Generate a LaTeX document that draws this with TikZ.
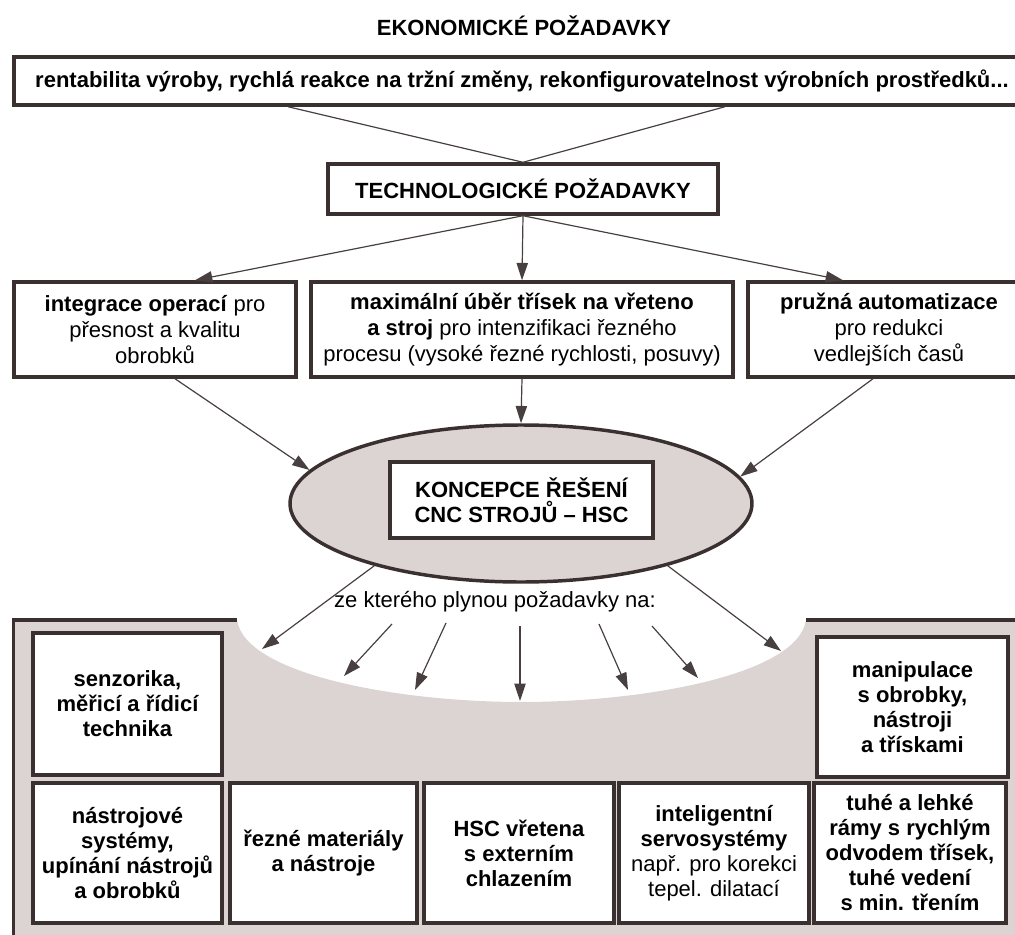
\documentclass[tikz,border=0pt]{standalone}
\usepackage{fontspec}
\setmainfont{Liberation Sans}
\usetikzlibrary{arrows.meta,shapes.geometric}
\definecolor{rahmen}{RGB}{58,48,48}
\definecolor{pfeilgrau}{RGB}{72,64,64}
\definecolor{papier}{RGB}{219,212,210}

\begin{document}
\begin{tikzpicture}[%
x=0.75pt,
y=-0.75pt,
kasten/.style={draw=rahmen, line width=2.6pt, fill=white, align=center, inner sep=0pt},
fett/.style={font=\fontsize{16.5}{19}\selectfont\bfseries},
unten/.style={kasten, minimum height=105pt, font=\fontsize{16.5}{18.75}\selectfont\bfseries},
pfeil/.style={draw=pfeilgrau, line width=0.9pt, -{Triangle[length=13pt,width=8.5pt]}},
linie/.style={draw=pfeilgrau, line width=0.9pt},
font=\fontsize{16.5}{19.5}\selectfont,
]
\useasboundingbox (0,0) rectangle (1015,935);

%Hintergrund
\fill[papier] (12,620) -- (237,620)
  .. controls (245,675) and (400,702) .. (521.5,702)
  .. controls (643,702) and (798,675) .. (806,620)
  -- (1015,620) -- (1015,935) -- (12,935) -- cycle;
\draw[rahmen, line width=2.6pt] (237,620) -- (13.5,620) -- (13.5,935);
\draw[rahmen, line width=2.6pt] (806,620) -- (1015,620);

%Kaesten oben
\node[fett] (oekonom) at (524,26) {EKONOMICKÉ POŽADAVKY};
\node[kasten, fett, minimum width=762pt, minimum height=36pt] (rentab) at (522,81)
  {rentabilita výroby, rychlá reakce na tržní změny, rekonfigurovatelnost výrobních prostředků...};
\node[kasten, fett, minimum width=292.5pt, minimum height=37.5pt] (techno) at (523,189)
  {TECHNOLOGICKÉ POŽADAVKY};
\node[kasten, minimum width=211.5pt, minimum height=71.25pt] (integ) at (155,329.5)
  {\textbf{integrace operací} pro\\přesnost a kvalitu\\obrobků};
\node[kasten, minimum width=316.5pt, minimum height=71.25pt] (mitte) at (522,329.5)
  {\textbf{maximální úběr třísek na vřeteno}\\\textbf{a stroj} pro intenzifikaci řezného\\procesu (vysoké řezné rychlosti, posuvy)};
\node[kasten, minimum width=211.5pt, minimum height=71.25pt] (auto) at (889,329.5)
  {\textbf{pružná automatizace}\\pro redukci\\vedlejších časů};

%Ellipse
\node[ellipse, draw=rahmen, line width=2.6pt, fill=papier, inner sep=0pt,
  minimum width=346.5pt, minimum height=117.75pt] (konz) at (521,503.5) {};
\node[kasten, fett, minimum width=197.25pt, minimum height=57pt] (konzept) at (521.5,500)
  {KONCEPCE ŘEŠENÍ\\CNC STROJŮ – HSC};
\node (plynou) at (495,602) {ze kterého plynou požadavky na:};

%Kaesten unten
\node[unten, minimum width=141.75pt, minimum height=106.5pt] (senzor) at (127.5,704)
  {senzorika,\\měřicí a řídicí\\technika};
\node[unten, minimum width=143.25pt] (manip) at (912.5,707)
  {manipulace\\s obrobky,\\nástroji\\a třískami};
\node[unten, minimum width=141.75pt] (nastroj) at (127.5,853)
  {nástrojové\\systémy,\\upínání nástrojů\\a obrobků};
\node[unten, minimum width=140.25pt] (rezne) at (323.5,853)
  {řezné materiály\\a nástroje};
\node[unten, minimum width=142.5pt] (vreteno) at (519,853)
  {HSC vřetena\\s externím\\chlazením};
\node[unten, minimum width=142.5pt] (servo) at (714,853)
  {inteligentní\\servosystémy\\{\mdseries např. pro korekci}\\{\mdseries tepel. dilatací}};
\node[unten, minimum width=144pt] (ramy) at (910,853)
  {tuhé a lehké\\rámy s rychlým\\odvodem třísek,\\tuhé vedení\\s min. třením};

%Verbindungen
\draw[linie] ([xshift=-175.5pt]rentab.south) -- (techno.north);
\draw[linie] ([xshift=152.2pt]rentab.south) -- (techno.north);
\draw[pfeil] (techno.south) -- ([xshift=30pt]integ.north);
\draw[pfeil] (techno.south) -- (mitte.north);
\draw[pfeil] (techno.south) -- ([xshift=-34.5pt]auto.north);
\draw[pfeil] ([xshift=15pt]integ.south) -- (konz.171);
\draw[pfeil] (mitte.south) -- (konz.north);
\draw[pfeil] ([xshift=-12pt]auto.south) -- (konz.7);

\coordinate (links) at (262,649);
\coordinate (rechts) at (781,651);
\draw[pfeil] (konz.203) -- (links);
\draw[pfeil] (konz.337) -- (rechts);
\foreach \i/\sx/\sy/\tx/\ty in {1/392/624/344/676, 2/446/623/415/690, 3/520/626/520/701,
  4/599/624/628/690, 5/652/626/698/678}{
  \coordinate (s\i) at (\sx,\sy);
  \coordinate (t\i) at (\tx,\ty);
  \draw[pfeil] (s\i) -- (t\i);
}

\end{tikzpicture}
\end{document}
